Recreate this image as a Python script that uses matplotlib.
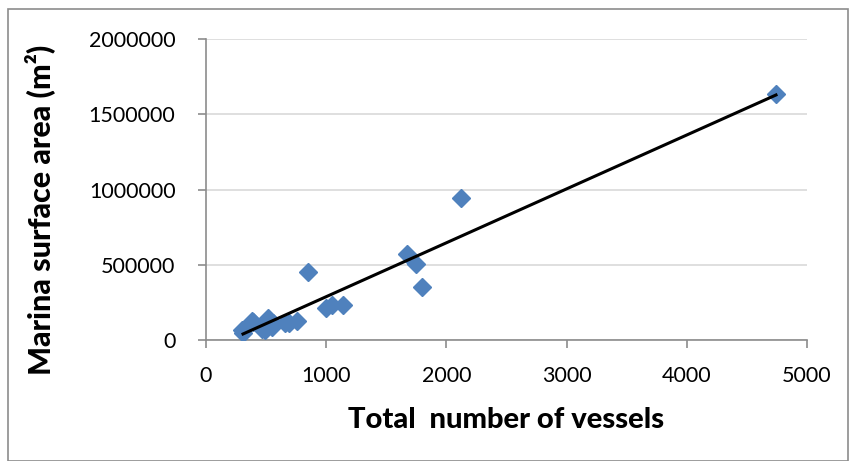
import matplotlib.pyplot as plt
from matplotlib.patches import Rectangle

# total number of vessels vs marina surface area (m2)
vessels = [297, 310, 380, 393, 463, 490, 518, 546, 557, 657, 690, 755, 846,
           998, 1046, 1137, 1675, 1747, 1800, 2121, 4742]
area = [66000, 44000, 128000, 122000, 71000, 66000, 144000, 88000, 113000,
        113000, 113000, 128000, 454000, 211000, 233000, 233000, 571000,
        505000, 354000, 944000, 1635000]

# linear trend line as drawn in the chart (start / end)
trend_vessels = [308, 4742]
trend_area = [40000, 1628000]

plt.rcParams["font.family"] = ["Lato", "DejaVu Sans"]

fig = plt.figure(figsize=(8.52, 4.61), dpi=100)
ax = fig.add_axes([206 / 852, 1 - 340 / 461, (807 - 206) / 852, (340 - 39) / 461])

fig.patches.append(Rectangle((8 / 852, 0), 840 / 852, 1 - 9 / 461,
                             transform=fig.transFigure, fill=False,
                             edgecolor="#8c8c8c", linewidth=1.2))

ax.plot(vessels, area, linestyle="none", marker="D", markersize=9.5,
        color="#4F81BD", markeredgecolor="#4F81BD", zorder=3)
ax.plot(trend_vessels, trend_area, color="black", linewidth=2.2, zorder=4)

ax.set_xlim(0, 5000)
ax.set_ylim(0, 2000000)
ax.set_xticks(range(0, 5001, 1000))
ax.set_yticks(range(0, 2000001, 500000))
ax.ticklabel_format(style="plain", useOffset=False)
ax.grid(axis="y", color="#d9d9d9", linewidth=1.2)
ax.set_axisbelow(True)

for side in ["top", "right"]:
    ax.spines[side].set_visible(False)
for side in ["left", "bottom"]:
    ax.spines[side].set_color("#8c8c8c")
    ax.spines[side].set_linewidth(1.2)

ax.tick_params(axis="both", colors="#8c8c8c", length=6, width=1.2,
               labelcolor="black", labelsize=15.5)
ax.tick_params(axis="y", pad=16)
ax.tick_params(axis="x", pad=13)

ax.set_xlabel("Total  number of vessels", fontsize=21, fontweight="black", labelpad=15)
ax.set_ylabel("Marina surface area (m²)", fontsize=22, fontweight="black")
ax.yaxis.set_label_coords(-0.252, 0.432)

plt.savefig("out.png", dpi=100)
plt.close()
